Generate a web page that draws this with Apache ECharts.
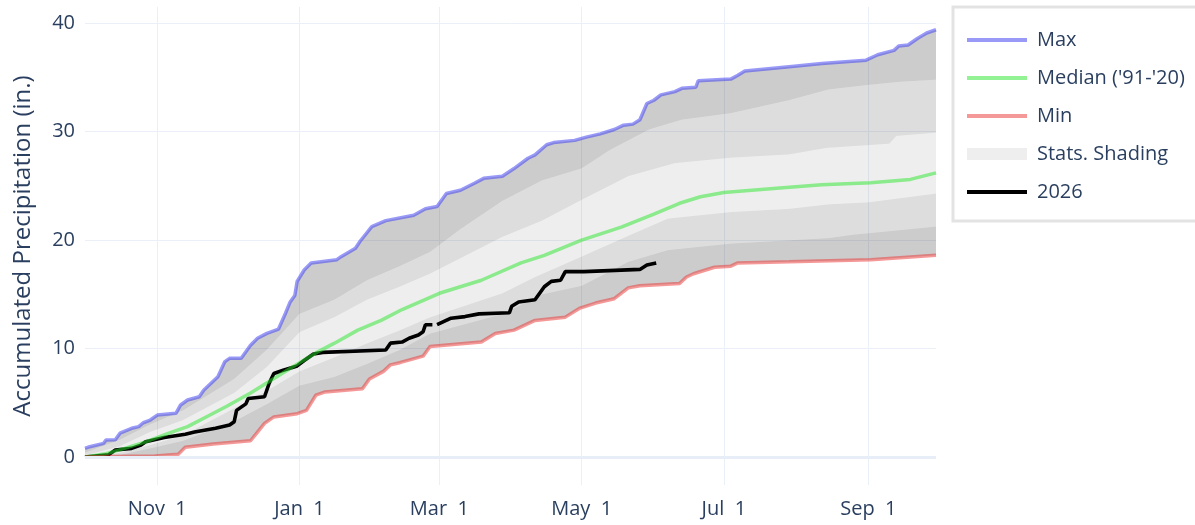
<!DOCTYPE html>
<html>
<head>
<meta charset="utf-8">
<script src="https://cdn.jsdelivr.net/npm/echarts@6/dist/echarts.min.js"></script>
<style>
  html, body { margin: 0; padding: 0; background: #fff; }
  #chart { width: 1195px; height: 525px; }
</style>
</head>
<body>
<div id="chart"></div>
<script>
// water year Oct 1 -> Sep 30, dates as MM-DD
const maxPts = [['10-01',0.8],['10-03',0.95],['10-09',1.26],['10-10',1.57],['10-14',1.6],['10-16',2.2],['10-21',2.65],['10-24',2.8],['10-26',3.16],['10-29',3.41],['11-01',3.87],['11-09',4.03],['11-11',4.8],['11-14',5.26],['11-19',5.56],['11-21',6.18],['11-27',7.4],['11-30',8.8],['12-02',9.1],['12-07',9.1],['12-11',10.3],['12-14',10.95],['12-18',11.4],['12-23',11.8],['12-26',13.26],['12-28',14.3],['12-30',14.9],['12-31',16.2],['01-03',17.25],['01-06',17.9],['01-17',18.2],['01-19',18.5],['01-25',19.25],['01-27',19.9],['02-01',21.25],['02-07',21.8],['02-19',22.3],['02-24',22.9],['02-29',23.1],['03-04',24.3],['03-10',24.6],['03-16',25.25],['03-20',25.7],['03-28',25.9],['04-02',26.6],['04-08',27.55],['04-11',27.86],['04-16',28.8],['04-19',29.0],['04-28',29.2],['05-03',29.5],['05-09',29.8],['05-15',30.2],['05-19',30.6],['05-23',30.7],['05-26',31.1],['05-29',32.6],['06-01',32.9],['06-04',33.4],['06-10',33.7],['06-13',34.0],['06-19',34.1],['06-20',34.7],['07-04',34.85],['07-07',35.2],['07-10',35.6],['07-29',36.0],['08-12',36.3],['08-31',36.6],['09-05',37.1],['09-12',37.5],['09-14',37.9],['09-18',38.0],['09-22',38.6],['09-26',39.1],['09-30',39.4]];
const p90Pts = [['10-01',0.4],['10-16',1.6],['10-29',3.0],['11-12',4.3],['11-25',6.0],['12-04',7.2],['12-18',9.9],['01-01',13.2],['01-16',14.5],['01-30',16.3],['02-13',17.6],['02-26',18.9],['03-10',21.0],['03-28',23.6],['04-14',25.5],['05-01',26.6],['05-13',28.3],['05-30',30.2],['06-13',31.1],['07-04',31.7],['07-29',32.9],['08-15',33.9],['09-01',34.3],['09-15',34.6],['09-30',34.8]];
const p70Pts = [['10-01',0.15],['10-16',1.0],['10-29',2.3],['11-12',3.4],['12-04',5.9],['12-18',8.3],['01-01',11.5],['01-16',12.9],['01-30',14.5],['02-13',15.7],['02-26',16.9],['03-28',20.3],['04-14',21.8],['05-01',23.7],['05-21',25.9],['06-10',27.1],['07-04',27.6],['07-29',27.9],['08-14',28.5],['09-10',28.9],['09-13',29.6],['09-30',29.9]];
const p30Pts = [['10-01',0],['10-16',0.4],['10-29',1.1],['11-12',2.0],['12-04',4.5],['12-18',6.1],['01-01',7.9],['01-16',9.2],['01-30',10.5],['02-13',11.7],['02-26',12.9],['03-28',15.1],['04-11',16.6],['05-01',18.5],['05-21',20.4],['06-07',22.0],['07-04',22.6],['07-29',22.9],['08-15',23.3],['09-01',23.5],['09-30',24.3]];
const p10Pts = [['10-01',0],['10-16',0.2],['10-29',0.8],['11-12',1.5],['12-04',3.3],['12-18',4.9],['01-01',6.6],['01-16',7.4],['01-30',8.6],['02-13',9.9],['02-26',11.4],['03-28',13.2],['04-14',15.0],['05-01',15.8],['05-21',18.0],['06-07',19.1],['07-04',19.7],['07-29',20.0],['08-15',20.2],['08-25',20.5],['09-30',21.25]];
const minPts = [['10-01',0],['10-11',0.05],['10-31',0.1],['11-10',0.25],['11-13',0.9],['11-25',1.2],['12-11',1.5],['12-14',2.3],['12-17',3.1],['12-21',3.7],['12-31',4.0],['01-04',4.3],['01-08',5.7],['01-12',6.0],['01-28',6.3],['01-31',7.2],['02-06',7.9],['02-09',8.5],['02-13',8.7],['02-23',9.3],['02-26',10.2],['03-19',10.6],['03-25',11.4],['04-02',11.7],['04-11',12.6],['04-24',12.9],['04-30',13.7],['05-07',14.2],['05-15',14.6],['05-21',15.6],['05-26',15.8],['06-12',16.0],['06-15',16.6],['06-18',16.9],['06-27',17.5],['07-04',17.6],['07-07',17.9],['07-29',18.0],['09-02',18.2],['09-30',18.6]];
const medianPts = [['10-01',0],['10-10',0.3],['10-18',0.8],['10-27',1.4],['11-06',2.2],['11-14',2.8],['11-23',3.8],['12-01',4.7],['12-11',5.9],['12-20',7.1],['12-29',8.3],['01-08',9.6],['01-16',10.5],['01-26',11.7],['02-05',12.6],['02-14',13.6],['03-01',15.1],['03-19',16.3],['04-05',17.9],['04-15',18.6],['05-01',20.0],['05-18',21.2],['06-01',22.4],['06-12',23.4],['06-21',24.0],['07-01',24.4],['07-25',24.8],['08-12',25.1],['09-02',25.3],['09-19',25.6],['09-30',26.2]];
// current year, null = missing day
const curPts = [['10-01',0],['10-11',0.2],['10-14',0.65],['10-21',0.8],['10-25',1.1],['10-27',1.4],['11-04',1.8],['11-13',2.1],['11-17',2.3],['11-26',2.65],['12-02',2.95],['12-04',3.26],['12-05',4.3],['12-09',4.9],['12-10',5.4],['12-17',5.56],['12-19',6.8],['12-21',7.7],['12-25',8.0],['12-31',8.4],['01-03',8.9],['01-07',9.5],['01-11',9.65],['02-07',9.87],['02-09',10.5],['02-14',10.6],['02-17',10.95],['02-21',11.25],['02-23',11.55],['02-24',12.2],['02-27',12.2],['02-28',null],['02-29',12.2],['03-03',12.5],['03-06',12.8],['03-12',12.95],['03-18',13.2],['03-31',13.3],['04-01',13.9],['04-04',14.3],['04-11',14.5],['04-14',15.4],['04-15',15.7],['04-18',16.2],['04-22',16.3],['04-24',17.1],['05-02',17.1],['05-26',17.3],['05-29',17.7],['06-02',17.9]];

const xTickDates = ['11-01', '01-01', '03-01', '05-01', '07-01', '09-01'];
const xTickLabels = ['Nov  1', 'Jan  1', 'Mar  1', 'May  1', 'Jul  1', 'Sep  1'];
const yTicks = [0, 10, 20, 30, 40];

// day index in the water year (plotted on a leap year span)
const toDay = md => {
  const [m, d] = md.split('-').map(Number);
  const y = m >= 10 ? 1999 : 2000;
  return (Date.UTC(y, m - 1, d) - Date.UTC(1999, 9, 1)) / 86400000;
};
const toData = pts => pts.map(([md, v]) => [toDay(md), v == null ? '-' : v]);
const xTickDays = xTickDates.map(toDay);

const bounds = [maxPts, p90Pts, p70Pts, p30Pts, p10Pts, minPts].map(toData);
const bandColors = ['rgba(0,0,0,0.2)', 'rgba(0,0,0,0.135)', 'rgba(0,0,0,0.068)', 'rgba(0,0,0,0.135)', 'rgba(0,0,0,0.2)'];

const font = "'Open Sans', sans-serif";
const textColor = '#2a3f5f';
const gridColor = '#ebf0f8';
const maxColor = 'rgba(70,70,240,0.55)';
const medColor = 'rgba(40,230,40,0.5)';
const minColor = 'rgba(235,50,50,0.5)';

// legend entry for a line: no marker, thick stroke
const lineEntry = name => ({ name, itemStyle: { opacity: 0 }, lineStyle: { width: 4 } });

const chart = echarts.init(document.getElementById('chart'));

const option = {
  animation: false,
  textStyle: { fontFamily: font },
  grid: { left: 85, right: 259, top: 7, bottom: 40 },
  legend: {
    orient: 'vertical',
    left: 953,
    top: 7,
    padding: [23, 20, 19, 12],
    itemGap: 18,
    itemWidth: 60,
    itemHeight: 12,
    borderColor: '#e3e3e3',
    borderWidth: 3,
    backgroundColor: '#fff',
    textStyle: { fontFamily: font, fontSize: 20, color: textColor, padding: [0, 0, 0, 5] },
    data: [
      lineEntry('Max'),
      lineEntry("Median ('91-'20)"),
      lineEntry('Min'),
      { name: 'Stats. Shading', icon: 'rect' },
      lineEntry('2026')
    ]
  },
  xAxis: {
    type: 'value',
    min: 0,
    max: 365,
    axisLine: { show: false },
    axisTick: { show: false, customValues: xTickDays },
    axisLabel: {
      customValues: xTickDays,
      formatter: v => xTickLabels[xTickDays.indexOf(v)] || '',
      fontFamily: font,
      fontSize: 20,
      color: textColor,
      margin: 14
    },
    splitLine: { show: true, lineStyle: { color: gridColor, width: 1 } }
  },
  yAxis: {
    type: 'value',
    min: -2.58,
    max: 41.5,
    name: 'Accumulated Precipitation (in.)',
    nameLocation: 'middle',
    nameGap: 50,
    nameTextStyle: { fontFamily: font, fontSize: 24, color: textColor },
    axisLine: { show: false },
    axisTick: { show: false, customValues: yTicks },
    axisLabel: {
      customValues: yTicks,
      fontFamily: font,
      fontSize: 20,
      color: textColor,
      margin: 10
    },
    splitLine: { show: true, lineStyle: { color: gridColor, width: 1 } }
  },
  series: [
    {
      name: 'Stats. Shading',
      type: 'custom',
      silent: true,
      itemStyle: { color: '#eeeeee' },
      encode: { x: 0, y: 1 },
      data: bandColors.map((c, i) => [0, 0, i]),
      renderItem: (params, api) => {
        const i = api.value(2);
        const upper = bounds[i].map(p => api.coord(p));
        const lower = bounds[i + 1].slice().reverse().map(p => api.coord(p));
        return {
          type: 'polygon',
          shape: { points: upper.concat(lower) },
          style: { fill: bandColors[i] }
        };
      },
      markLine: {
        silent: true,
        symbol: 'none',
        label: { show: false },
        lineStyle: { color: '#e8eef7', width: 3, type: 'solid' },
        data: [{ yAxis: 0 }]
      }
    },
    {
      name: '2026',
      type: 'line',
      data: toData(curPts),
      showSymbol: false,
      symbol: 'none',
      connectNulls: false,
      lineStyle: { color: '#000', width: 3.6 },
      itemStyle: { color: '#000' }
    },
    {
      name: 'Max',
      type: 'line',
      data: bounds[0],
      symbol: 'none',
      lineStyle: { color: maxColor, width: 3.5 },
      itemStyle: { color: maxColor }
    },
    {
      name: "Median ('91-'20)",
      type: 'line',
      data: toData(medianPts),
      symbol: 'none',
      lineStyle: { color: medColor, width: 3.5 },
      itemStyle: { color: medColor }
    },
    {
      name: 'Min',
      type: 'line',
      data: bounds[5],
      symbol: 'none',
      lineStyle: { color: minColor, width: 3.5 },
      itemStyle: { color: minColor }
    }
  ]
};

chart.setOption(option);
</script>
</body>
</html>
